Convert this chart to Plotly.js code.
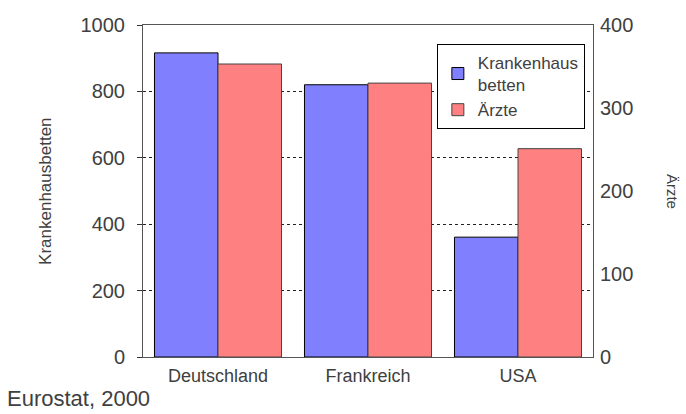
<!DOCTYPE html>
<html>
<head>
<meta charset="utf-8">
<script src="https://cdn.plot.ly/plotly-3.0.1.min.js"></script>
<style>html,body{margin:0;padding:0;background:#fff;}#chart{width:686px;height:414px;}</style>
</head>
<body>
<div id="chart"></div>
<script>
const categories = ["Deutschland", "Frankreich", "USA"];
const krankenhausbetten = [916, 820, 361];
const aerzte = [353, 330, 251];
const leftTicks = [0, 200, 400, 600, 800, 1000];
const rightTicks = [0, 100, 200, 300, 400];

const fontFam = "Liberation Sans, Arial, sans-serif";
const txt = "#404040";
const traces = [
  {
    type: "bar", x: categories, y: krankenhausbetten, name: "Krankenhaus<br>betten",
    yaxis: "y", offsetgroup: "1",
    marker: {color: "#8080ff", line: {color: "#000", width: 1}}
  },
  {
    type: "bar", x: categories, y: aerzte, name: "Ärzte",
    yaxis: "y2", offsetgroup: "2",
    marker: {color: "#ff8080", line: {color: "#444", width: 1}}
  }
];

const layout = {
  width: 686, height: 414,
  margin: {l: 143, r: 93, t: 25, b: 57},
  paper_bgcolor: "#fff", plot_bgcolor: "#fff",
  barmode: "group", bargap: 0.153, bargroupgap: 0,
  font: {family: fontFam, color: txt, size: 14},
  showlegend: true,
  legend: {
    x: 0.653, y: 0.943, xanchor: "left", yanchor: "top",
    bordercolor: "#000", borderwidth: 1, bgcolor: "#fff",
    font: {family: fontFam, size: 17, color: txt},
    tracegroupgap: 0, itemwidth: 30
  },
  xaxis: {
    type: "category", showline: true, linecolor: "#555", linewidth: 1, mirror: true,
    ticks: "", tickfont: {size: 18, color: txt}, showgrid: false, ticklabelstandoff: 2
  },
  yaxis: {
    range: [0, 1000], tickvals: leftTicks, ticks: "outside", ticklen: 5, tickcolor: "#333",
    showline: true, linecolor: "#555", linewidth: 1, mirror: true,
    showgrid: true, gridcolor: "#222", griddash: "3px,3px", gridwidth: 1,
    tickfont: {size: 20, color: txt}, zeroline: false, ticklabelstandoff: 8
  },
  yaxis2: {
    range: [0, 400], tickvals: rightTicks, overlaying: "y", side: "right",
    ticks: "", showgrid: false, zeroline: false, showline: false,
    tickfont: {size: 20, color: txt}, ticklabelstandoff: 6
  },
  annotations: [
    {text: "Krankenhausbetten", xref: "paper", yref: "paper", x: -0.218, y: 0.5,
     xanchor: "center", yanchor: "middle", textangle: -90, showarrow: false,
     font: {size: 17, color: txt}},
    {text: "Ärzte", xref: "paper", yref: "paper", x: 1.178, y: 0.5,
     xanchor: "center", yanchor: "middle", textangle: 90, showarrow: false,
     font: {size: 15, color: txt}},
    {text: "Eurostat, 2000", xref: "paper", yref: "paper", x: -0.307, y: -0.08,
     xanchor: "left", yanchor: "top", showarrow: false,
     font: {size: 22, color: txt}}
  ]
};

Plotly.newPlot("chart", traces, layout, {displayModeBar: false, staticPlot: true});
</script>
</body>
</html>
